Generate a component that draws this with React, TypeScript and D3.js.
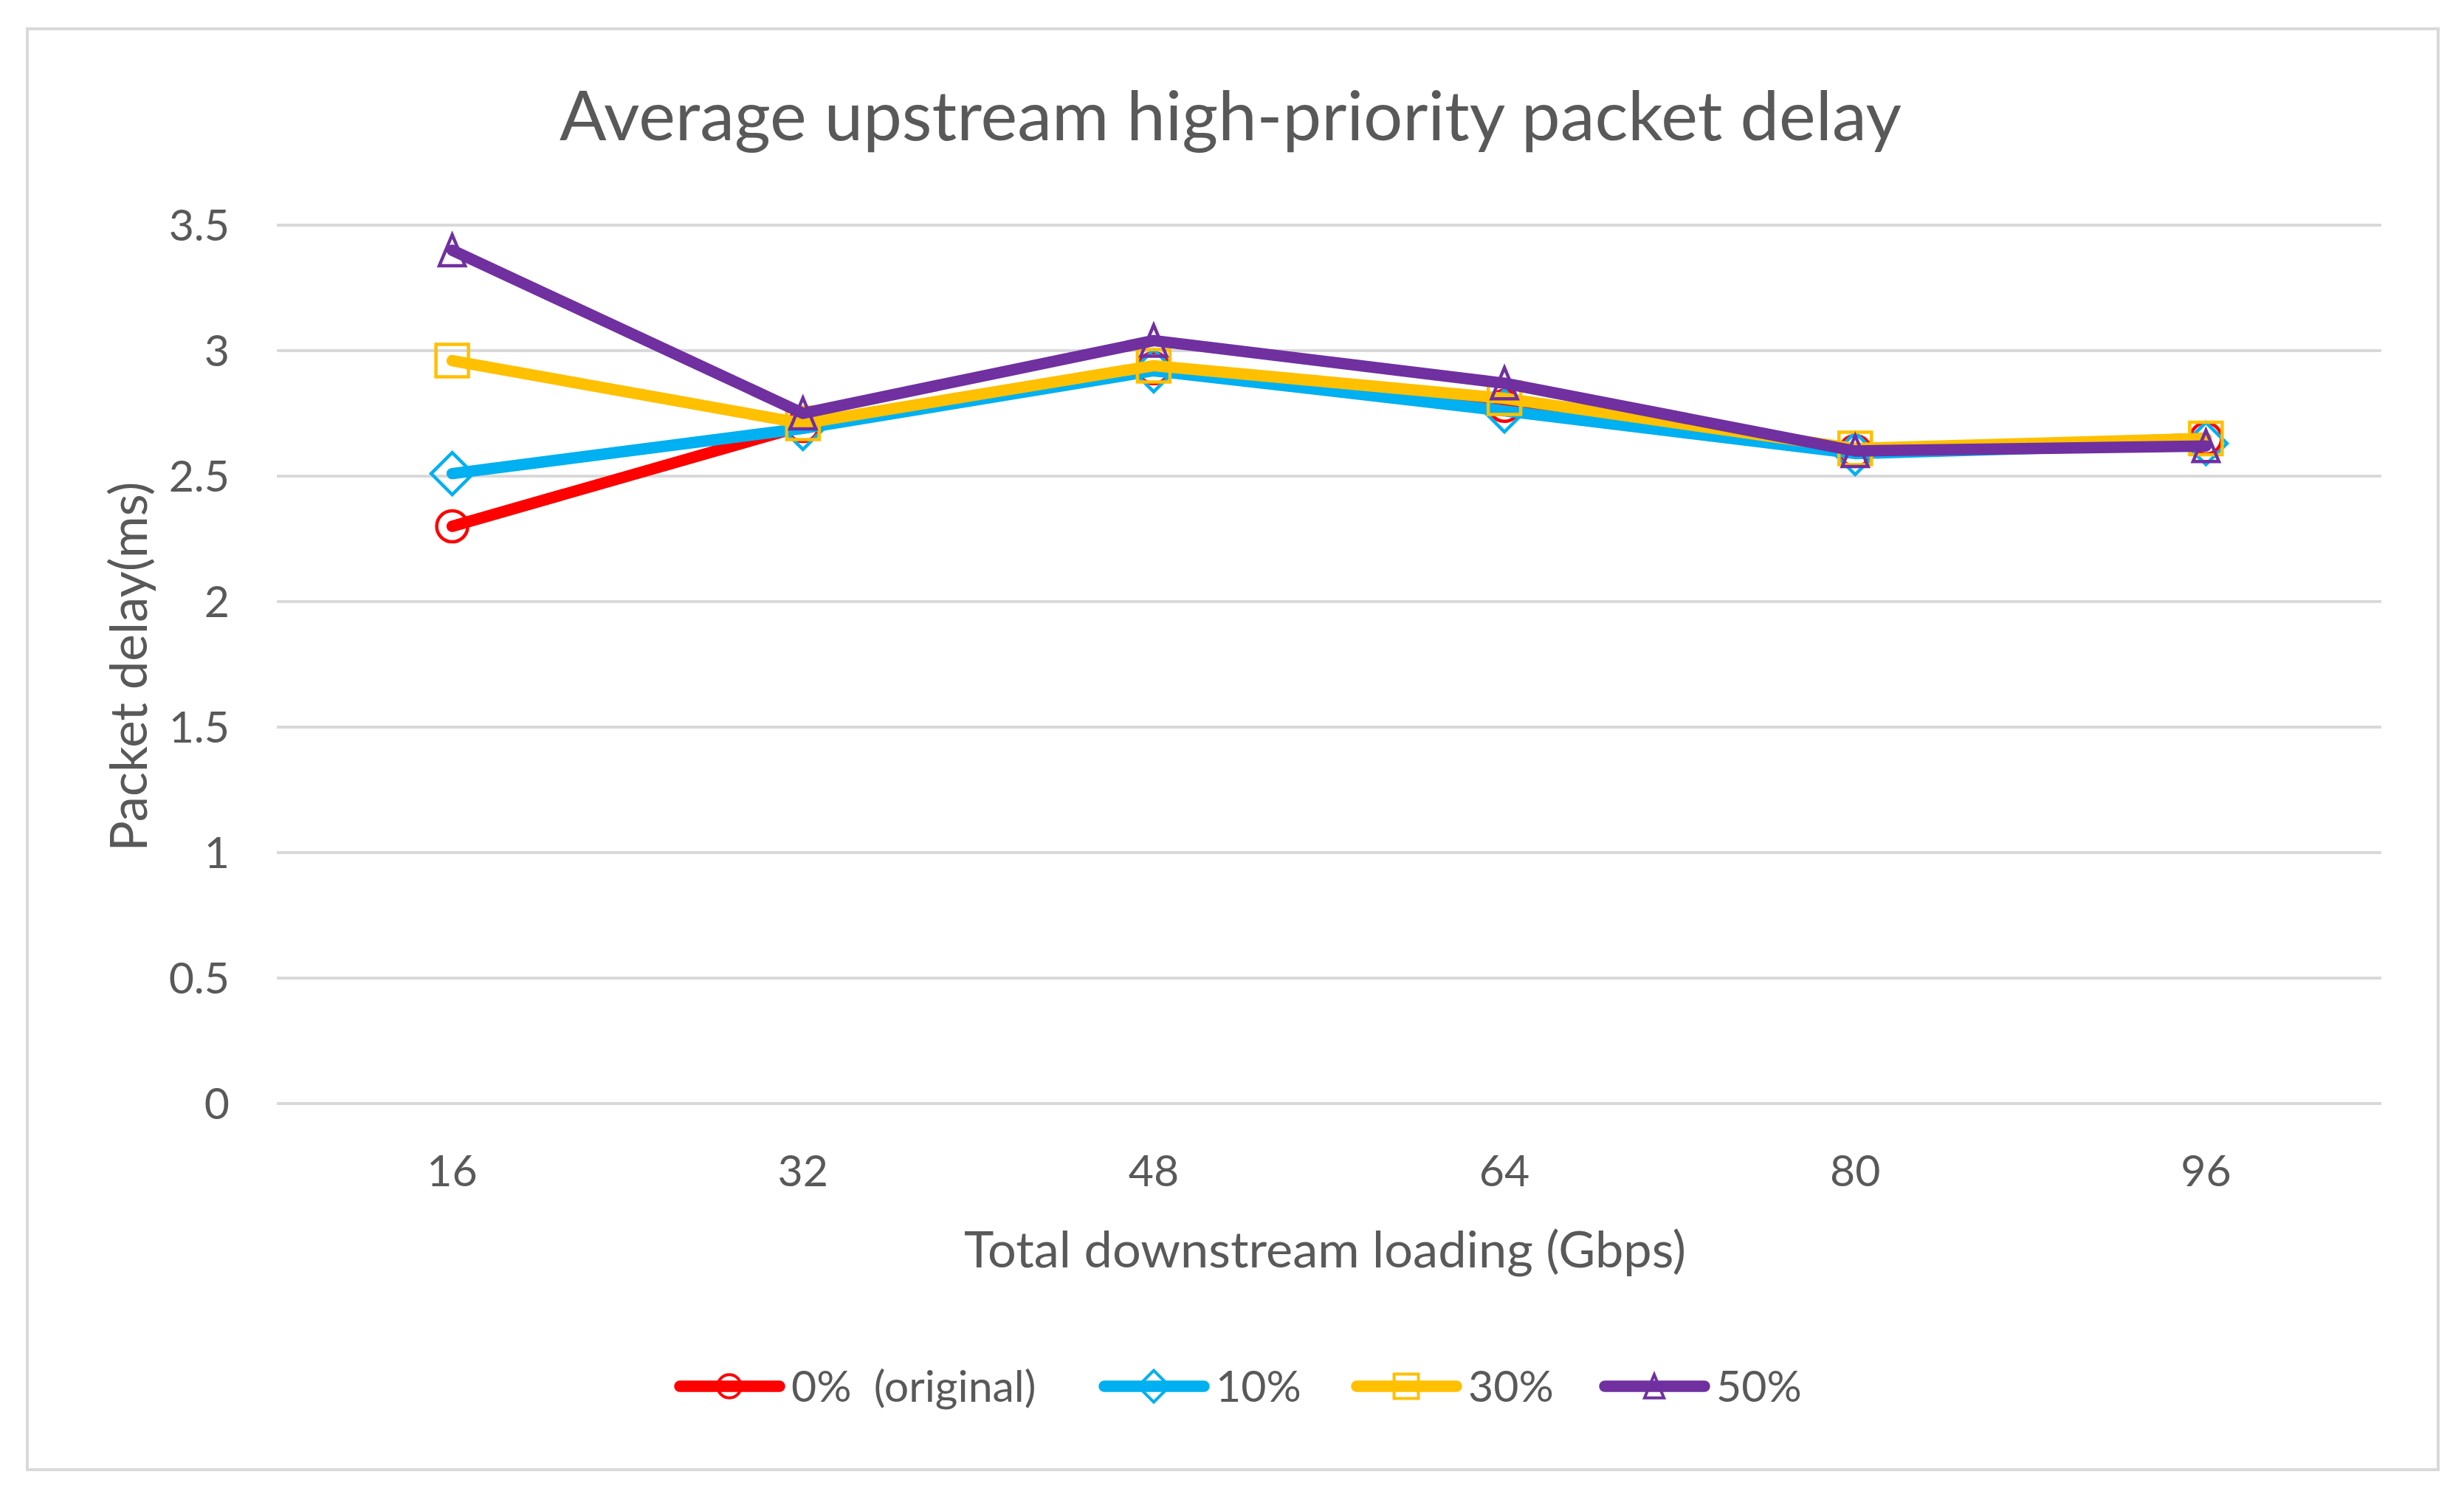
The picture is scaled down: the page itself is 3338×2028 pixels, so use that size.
import React from "react";
import * as d3 from "d3";

const categories = ["16", "32", "48", "64", "80", "96"];
const seriesNames = ["0%\u00A0 (original)", "10%", "30%", "50%"];
const values0 = [2.3, 2.7, 2.93, 2.78, 2.6, 2.65];
const values10 = [2.51, 2.69, 2.92, 2.76, 2.59, 2.63];
const values30 = [2.96, 2.71, 2.94, 2.81, 2.61, 2.65];
const values50 = [3.4, 2.75, 3.04, 2.87, 2.6, 2.62];
const yTicks = [0, 0.5, 1, 1.5, 2, 2.5, 3, 3.5];
const colors = ["#FF0000", "#00B0F0", "#FFC000", "#7030A0"];
const markers = ["circle", "diamond", "square", "triangle"];

const W = 3338;
const H = 2028;
const FONT = "Lato, 'Open Sans', sans-serif";
const TEXT = "#595959";

function markerPath(kind: string, s: number): string {
  if (kind === "circle") {
    const r = 21 * s;
    return `M${-r},0A${r},${r} 0 1,0 ${r},0A${r},${r} 0 1,0 ${-r},0Z`;
  }
  if (kind === "diamond") {
    const h = 28.5 * s;
    return `M0,${-h}L${h},0L0,${h}L${-h},0Z`;
  }
  if (kind === "square") {
    const h = 22 * s;
    return `M${-h},${-h}L${h},${-h}L${h},${h}L${-h},${h}Z`;
  }
  const w = 17.5 * s;
  const h = 21 * s;
  return `M0,${-h}L${w},${h}L${-w},${h}Z`;
}

export default function App() {
  const allSeries = [values0, values10, values30, values50];
  const x = d3.scaleBand<string>().domain(categories).range([375, 3226]);
  const y = d3.scaleLinear().domain([0, 3.5]).range([1495, 305]);
  const cx = (c: string) => (x(c) as number) + x.bandwidth() / 2;
  const line = d3
    .line<number>()
    .x((_, i) => cx(categories[i]))
    .y((d) => y(d));

  const legendX = [913, 1488, 1830, 2166];
  const legendY = 1878;

  return (
    <svg
      width={W}
      height={H}
      viewBox={`0 0 ${W} ${H}`}
      style={{ position: "absolute", left: 0, top: 0, background: "#fff" }}
      fontFamily={FONT}
    >
      <rect x={0} y={0} width={W} height={H} fill="#fff" />
      <rect x={37} y={39} width={3266} height={1952} fill="#fff" stroke="#D9D9D9" strokeWidth={4} />
      <text x={1667} y={190} textAnchor="middle" fontSize={94} fill={TEXT}>
        Average upstream high-priority packet delay
      </text>

      {yTicks.map((t) => (
        <g key={t}>
          <line x1={375} x2={3226} y1={y(t)} y2={y(t)} stroke="#D9D9D9" strokeWidth={4} />
          <text x={311} y={y(t)} dy="0.35em" textAnchor="end" fontSize={59} fill={TEXT}>
            {String(t)}
          </text>
        </g>
      ))}

      {categories.map((c) => (
        <text key={c} x={cx(c)} y={1607} textAnchor="middle" fontSize={59} fill={TEXT}>
          {c}
        </text>
      ))}

      <text x={1795} y={1717} textAnchor="middle" fontSize={68.5} fill={TEXT}>
        Total downstream loading (Gbps)
      </text>
      <text
        transform={`translate(199,903) rotate(-90)`}
        textAnchor="middle"
        fontSize={69}
        fill={TEXT}
      >
        Packet delay(ms)
      </text>

      {allSeries.map((vals, si) => (
        <g key={si}>
          <path
            d={line(vals) || ""}
            fill="none"
            stroke={colors[si]}
            strokeWidth={15.5}
            strokeLinecap="round"
            strokeLinejoin="round"
          />
          {vals.map((v, i) => (
            <path
              key={i}
              transform={`translate(${cx(categories[i])},${y(v)})`}
              d={markerPath(markers[si], 1)}
              fill="none"
              stroke={colors[si]}
              strokeWidth={4.5}
            />
          ))}
        </g>
      ))}

      {seriesNames.map((n, si) => (
        <g key={n}>
          <line
            x1={legendX[si] + 8}
            x2={legendX[si] + 143}
            y1={legendY}
            y2={legendY}
            stroke={colors[si]}
            strokeWidth={15.5}
            strokeLinecap="round"
          />
          <path
            transform={`translate(${legendX[si] + 75},${legendY})`}
            d={markerPath(markers[si], 0.75)}
            fill="none"
            stroke={colors[si]}
            strokeWidth={4}
          />
          <text x={legendX[si] + 159} y={legendY} dy="0.36em" fontSize={59} fill={TEXT}>
            {n}
          </text>
        </g>
      ))}
    </svg>
  );
}
